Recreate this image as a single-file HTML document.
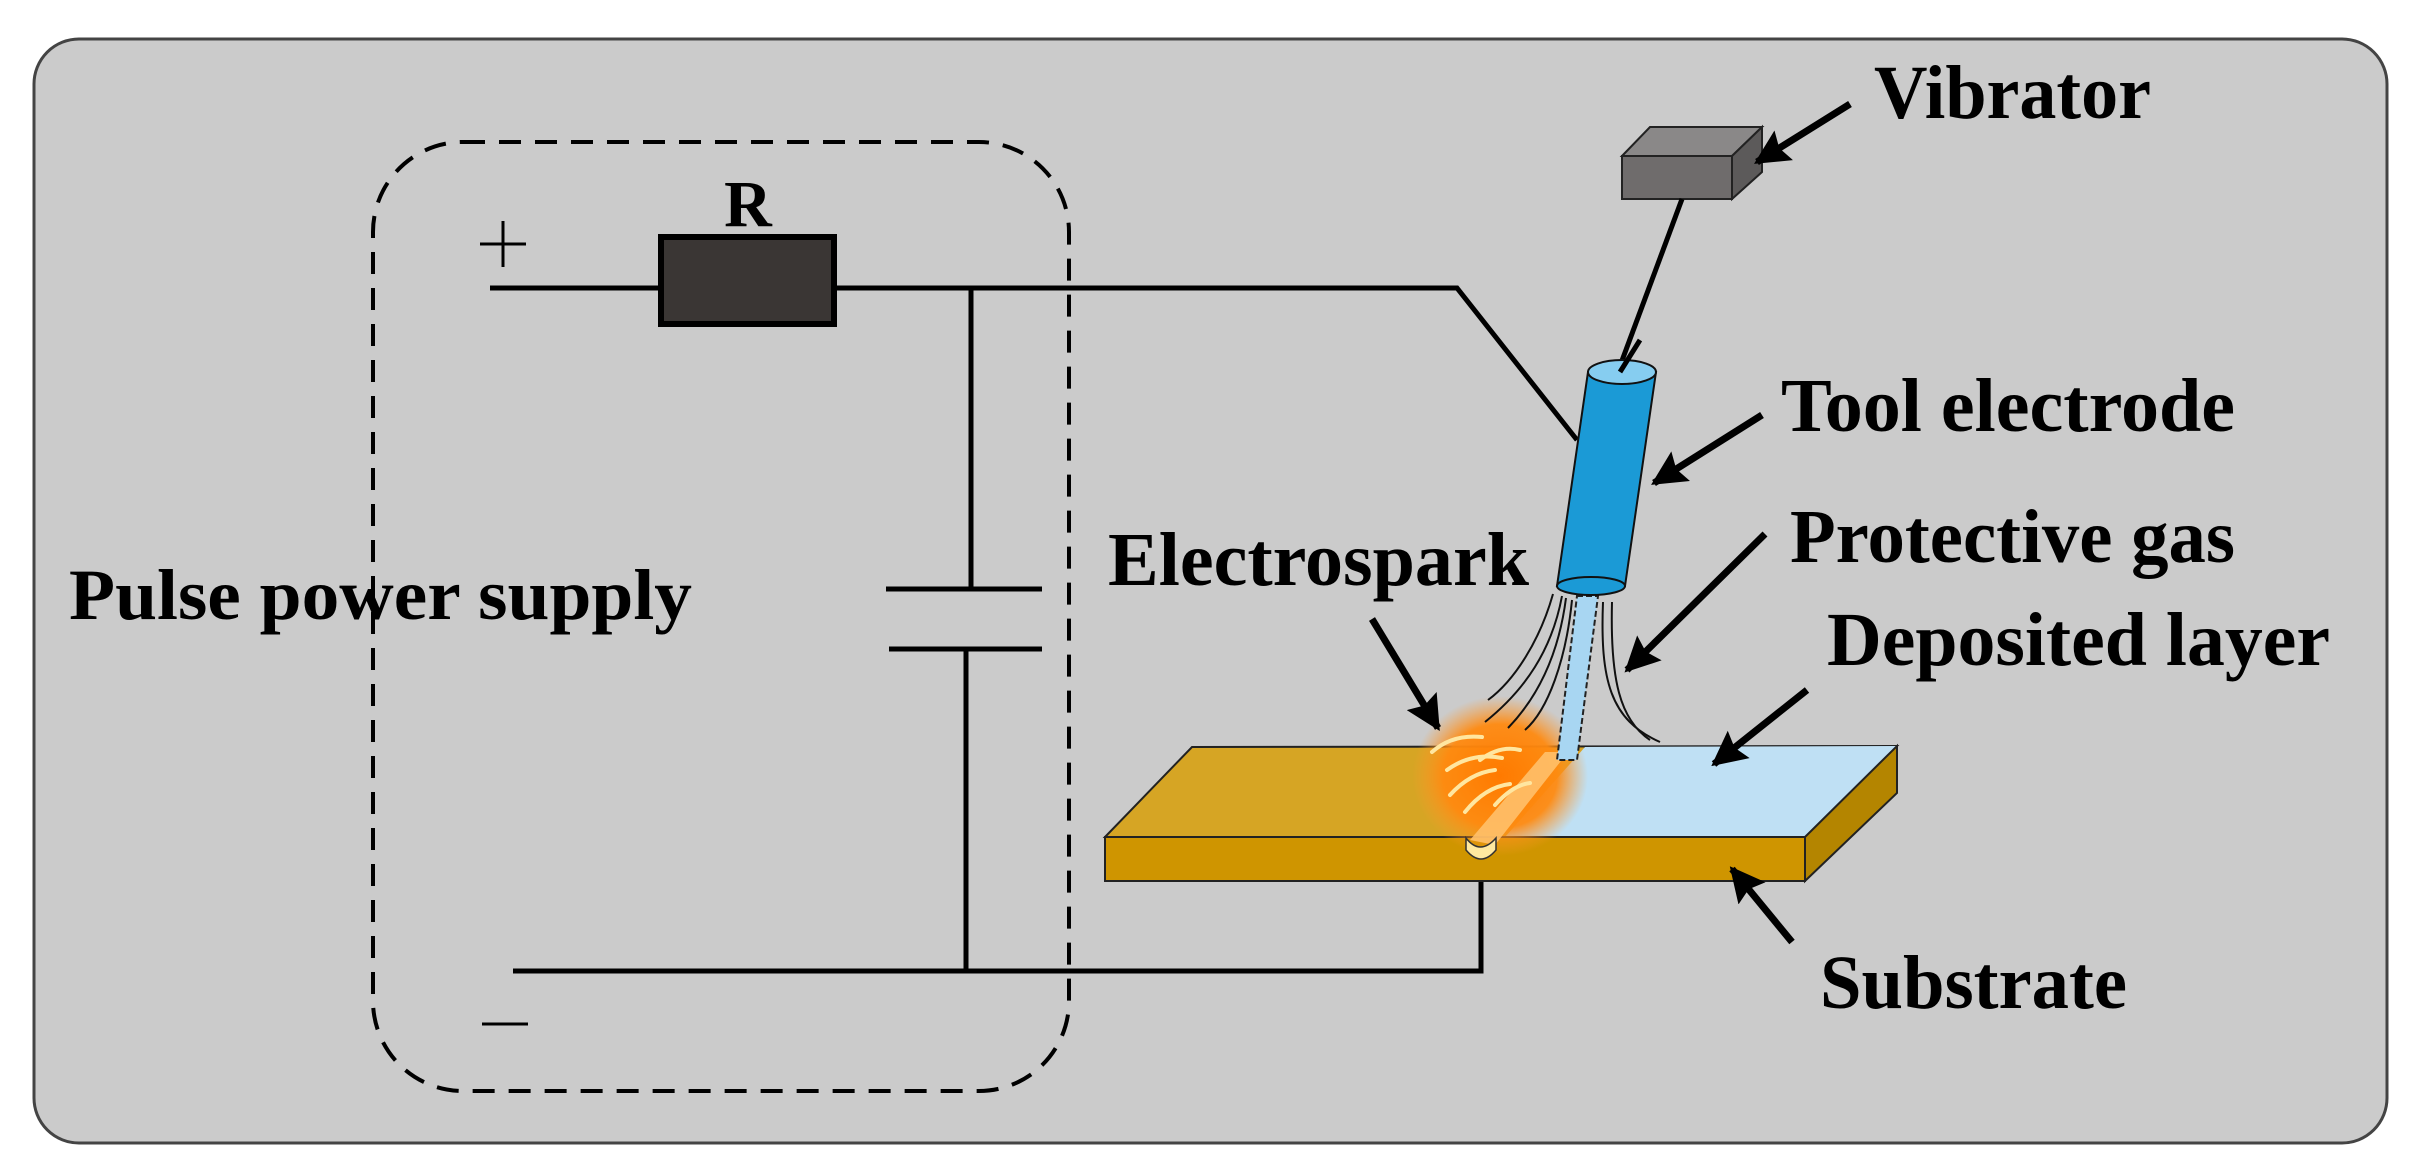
<!DOCTYPE html>
<html><head><meta charset="utf-8"><style>
html,body{margin:0;padding:0;background:#fff}
svg{display:block}
text{font-family:"Liberation Serif",serif;font-weight:bold;fill:#000}
</style></head><body>
<svg width="2418" height="1170" viewBox="0 0 2418 1170" xmlns="http://www.w3.org/2000/svg">
<defs>
<radialGradient id="glow" cx="50%" cy="50%" r="50%">
<stop offset="0" stop-color="#ff7a00"/>
<stop offset="0.65" stop-color="#ff8a10" stop-opacity="0.95"/>
<stop offset="1" stop-color="#ff9a30" stop-opacity="0"/>
</radialGradient>
<marker id="ah" viewBox="0 0 10 10" refX="9" refY="5" markerWidth="5" markerHeight="5" orient="auto">
<path d="M0,0 L10,5 L0,10 L1.5,5 z" fill="#000"/>
</marker>
</defs>
<rect x="34" y="39" width="2353" height="1104" rx="45" fill="#cbcbcb" stroke="#444" stroke-width="3"/>
<rect x="373" y="142" width="696" height="949" rx="90" fill="none" stroke="#000" stroke-width="4" stroke-dasharray="22 14"/>
<g stroke="#000" stroke-width="5" fill="none">
<line x1="490" y1="288" x2="660" y2="288"/>
<polyline points="834,288 1457,288 1577,440"/>
<line x1="971" y1="288" x2="971" y2="589"/>
<line x1="886" y1="589" x2="1042" y2="589"/>
<line x1="889" y1="649" x2="1042" y2="649"/>
<line x1="966" y1="649" x2="966" y2="971"/>
<polyline points="513,971 1481,971 1481,881"/>
<line x1="480" y1="244" x2="526" y2="244" stroke-width="3"/>
<line x1="503" y1="221" x2="503" y2="267" stroke-width="3"/>
<line x1="482" y1="1024" x2="528" y2="1024" stroke-width="3"/>
</g>
<rect x="661" y="237" width="173" height="87" fill="#3a3634" stroke="#000" stroke-width="6"/>
<text x="748" y="226" font-size="66" text-anchor="middle">R</text>
<text x="69" y="619" font-size="72" textLength="623" lengthAdjust="spacingAndGlyphs">Pulse power supply</text>
<polygon points="1622,156 1650,127 1762,127 1732,156" fill="#8a8888" stroke="#222" stroke-width="2"/>
<polygon points="1732,156 1762,127 1762,172 1732,199" fill="#5c5a5a" stroke="#222" stroke-width="2"/>
<rect x="1622" y="156" width="110" height="43" fill="#6f6c6c" stroke="#222" stroke-width="2"/>
<line x1="1682" y1="199" x2="1620" y2="366" stroke="#000" stroke-width="5"/>
<polygon points="1105,837 1192,747 1897,746 1805,837" fill="#d6a524" stroke="#222" stroke-width="2"/>
<polygon points="1585,747 1897,746 1805,837 1505,837" fill="#bfe0f4"/>
<rect x="1105" y="837" width="700" height="44" fill="#cf9500" stroke="#222" stroke-width="2"/>
<polygon points="1805,837 1897,746 1897,793 1805,881" fill="#b48500" stroke="#222" stroke-width="2"/>
<ellipse cx="1500" cy="776" rx="88" ry="80" fill="url(#glow)"/>
<path d="M1470,840 L1545,752 L1568,752 L1495,845 Z" fill="#ffc06a" opacity="0.9"/>
<path d="M1466,838 q14,18 30,0 l0,12 q-15,18 -30,0 z" fill="#ffe9a0" stroke="#333" stroke-width="1.5"/>
<g stroke="#ffe6a0" stroke-width="4" fill="none" stroke-linecap="round">
<path d="M1432,752 q20,-18 50,-15"/>
<path d="M1447,770 q25,-18 55,-12"/>
<path d="M1450,795 q20,-22 45,-25"/>
<path d="M1465,812 q20,-25 45,-28"/>
<path d="M1480,760 q20,-15 40,-10"/>
<path d="M1495,805 q18,-20 35,-22"/>
</g>
<g stroke="#111" stroke-width="2" fill="none">
<path d="M1553,594 C1540,640 1515,680 1488,700"/>
<path d="M1562,596 C1552,650 1525,690 1485,722"/>
<path d="M1566,598 C1558,660 1535,700 1508,728"/>
<path d="M1572,600 C1566,660 1548,710 1525,730"/>
<path d="M1603,602 C1600,680 1610,720 1660,742"/>
<path d="M1612,602 C1610,680 1620,720 1650,740"/>
</g>
<polygon points="1577,596 1598,596 1577,760 1557,760" fill="#a8d6f2" stroke="#222" stroke-width="2" stroke-dasharray="6 3"/>
<polygon points="1588,372 1656,372 1625,586 1557,586" fill="#1b9ad6" stroke="#111" stroke-width="2"/>
<ellipse cx="1591" cy="586" rx="34" ry="9" fill="#1b9ad6" stroke="#111" stroke-width="2"/>
<ellipse cx="1622" cy="372" rx="34" ry="12" fill="#86cdf0" stroke="#111" stroke-width="2"/>
<line x1="1640" y1="340" x2="1620" y2="372" stroke="#000" stroke-width="5"/>
<g stroke="#000" stroke-width="7" marker-end="url(#ah)">
<line x1="1850" y1="104" x2="1757" y2="162"/>
<line x1="1762" y1="415" x2="1654" y2="483"/>
<line x1="1765" y1="534" x2="1627" y2="670"/>
<line x1="1372" y1="619" x2="1438" y2="728"/>
<line x1="1807" y1="690" x2="1714" y2="764"/>
<line x1="1792" y1="942" x2="1732" y2="869"/>
</g>
<text x="1874" y="118" font-size="76" textLength="277" lengthAdjust="spacingAndGlyphs">Vibrator</text>
<text x="1781" y="431" font-size="76" textLength="454" lengthAdjust="spacingAndGlyphs">Tool electrode</text>
<text x="1790" y="562" font-size="76" textLength="445" lengthAdjust="spacingAndGlyphs">Protective gas</text>
<text x="1108" y="585" font-size="76" textLength="421" lengthAdjust="spacingAndGlyphs">Electrospark</text>
<text x="1827" y="665" font-size="76" textLength="503" lengthAdjust="spacingAndGlyphs">Deposited layer</text>
<text x="1820" y="1008" font-size="76" textLength="307" lengthAdjust="spacingAndGlyphs">Substrate</text>
</svg>
</body></html>
